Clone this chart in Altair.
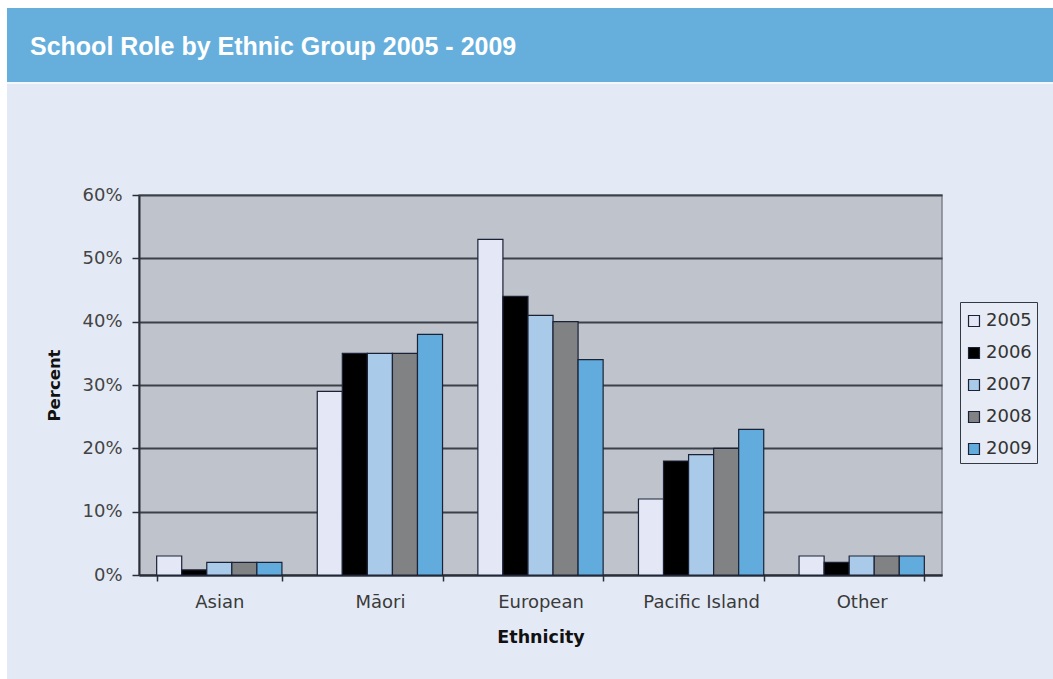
import altair as alt
import pandas as pd

categories = ["Asian", "Māori", "European", "Pacific Island", "Other"]
years = ["2005", "2006", "2007", "2008", "2009"]
v2005 = [3, 29, 53, 12, 3]
v2006 = [0.8, 35, 44, 18, 2]
v2007 = [2, 35, 41, 19, 3]
v2008 = [2, 35, 40, 20, 3]
v2009 = [2, 38, 34, 23, 3]
colors = ["#e4e8f6", "#000000", "#a9cae9", "#808284", "#62acdd"]

series = [v2005, v2006, v2007, v2008, v2009]
rows = []
for y, vals in zip(years, series):
    for c, v in zip(categories, vals):
        rows.append({"Ethnicity": c, "Year": y, "Percent": v})
df = pd.DataFrame(rows)

W, H = 803, 380
L, T = 139, 195
R, B = 1053 - L - W, 679 - T - H

one = pd.DataFrame({"a": [0]})

# decorative frame pieces (pixel positions relative to plot origin)
white_top = alt.Chart(one).mark_rect(color="white").encode(
    x=alt.value(-L), x2=alt.value(W + R), y=alt.value(-T), y2=alt.value(-T + 8))
white_left = alt.Chart(one).mark_rect(color="white").encode(
    x=alt.value(-L), x2=alt.value(-L + 7), y=alt.value(-T), y2=alt.value(H + B))
header = alt.Chart(one).mark_rect(color="#66afdc").encode(
    x=alt.value(-L + 7), x2=alt.value(W + R), y=alt.value(-T + 8), y2=alt.value(-T + 82))
header_line = alt.Chart(one).mark_rect(color="#f4f8fc").encode(
    x=alt.value(-L + 7), x2=alt.value(W + R), y=alt.value(-T + 82), y2=alt.value(-T + 84))
title = alt.Chart(one).mark_text(
    text="School Role by Ethnic Group 2005 - 2009", color="white", fontSize=25,
    fontWeight="bold", font="Liberation Sans", align="left", baseline="middle"
).encode(x=alt.value(-L + 30), y=alt.value(-T + 47))

lab_font = "DejaVu Sans"

bars = alt.Chart(df).mark_bar(stroke="#1c2236", strokeWidth=1.2).encode(
    x=alt.X("Ethnicity:N", sort=categories,
            scale=alt.Scale(paddingInner=0.22, paddingOuter=0.11),
            axis=alt.Axis(title="Ethnicity", labelAngle=0, tickBand="extent",
                          labelFont=lab_font, labelFontSize=18, labelColor="#3a3a3a",
                          labelPadding=12, titleFont=lab_font, titleFontSize=17.5,
                          titleFontWeight="bold", titleColor="#111111", titlePadding=17,
                          domainColor="#2a2e36", domainWidth=2, tickColor="#2a2e36",
                          tickSize=6, tickWidth=1.5, grid=False)),
    xOffset=alt.XOffset("Year:N", sort=years, scale=alt.Scale(paddingInner=0, paddingOuter=0)),
    y=alt.Y("Percent:Q", scale=alt.Scale(domain=[0, 60], nice=False),
            axis=alt.Axis(title="Percent", values=[0, 10, 20, 30, 40, 50, 60],
                          labelExpr="datum.value + '%'",
                          labelFont=lab_font, labelFontSize=18, labelColor="#444444",
                          labelPadding=10, titleFont=lab_font, titleFontSize=16.5,
                          titleFontWeight="bold", titleColor="#111111", titlePadding=19,
                          domainColor="#2a2e36", domainWidth=2, tickColor="#2a2e36",
                          tickSize=7, tickWidth=1.5,
                          grid=True, gridColor="#3c4149", gridWidth=2)),
    color=alt.Color("Year:N", sort=years, scale=alt.Scale(domain=years, range=colors),
                    legend=alt.Legend(title=" ", titleFontSize=1, titlePadding=4,
                                      orient="none", legendX=W + 18, legendY=107,
                                      symbolType="square", symbolSize=120,
                                      symbolStrokeColor="#1c2236", symbolStrokeWidth=1.2,
                                      labelFont=lab_font, labelFontSize=18,
                                      labelColor="#333333", rowPadding=14,
                                      padding=5, strokeColor="#333a44",
                                      fillColor="#e6ebf5", labelOffset=3)),
)

chart = alt.layer(white_top, white_left, header, header_line, title, bars).properties(
    width=W, height=H,
    autosize=alt.AutoSizeParams(type="none"),
    padding={"left": L, "top": T, "right": R, "bottom": B},
    background="#e4eaf5",
).configure_view(fill="#bec3cc", stroke="#7d828a", strokeWidth=1.5)

chart.save("out.html", embed_options={"renderer": "svg", "actions": False})
